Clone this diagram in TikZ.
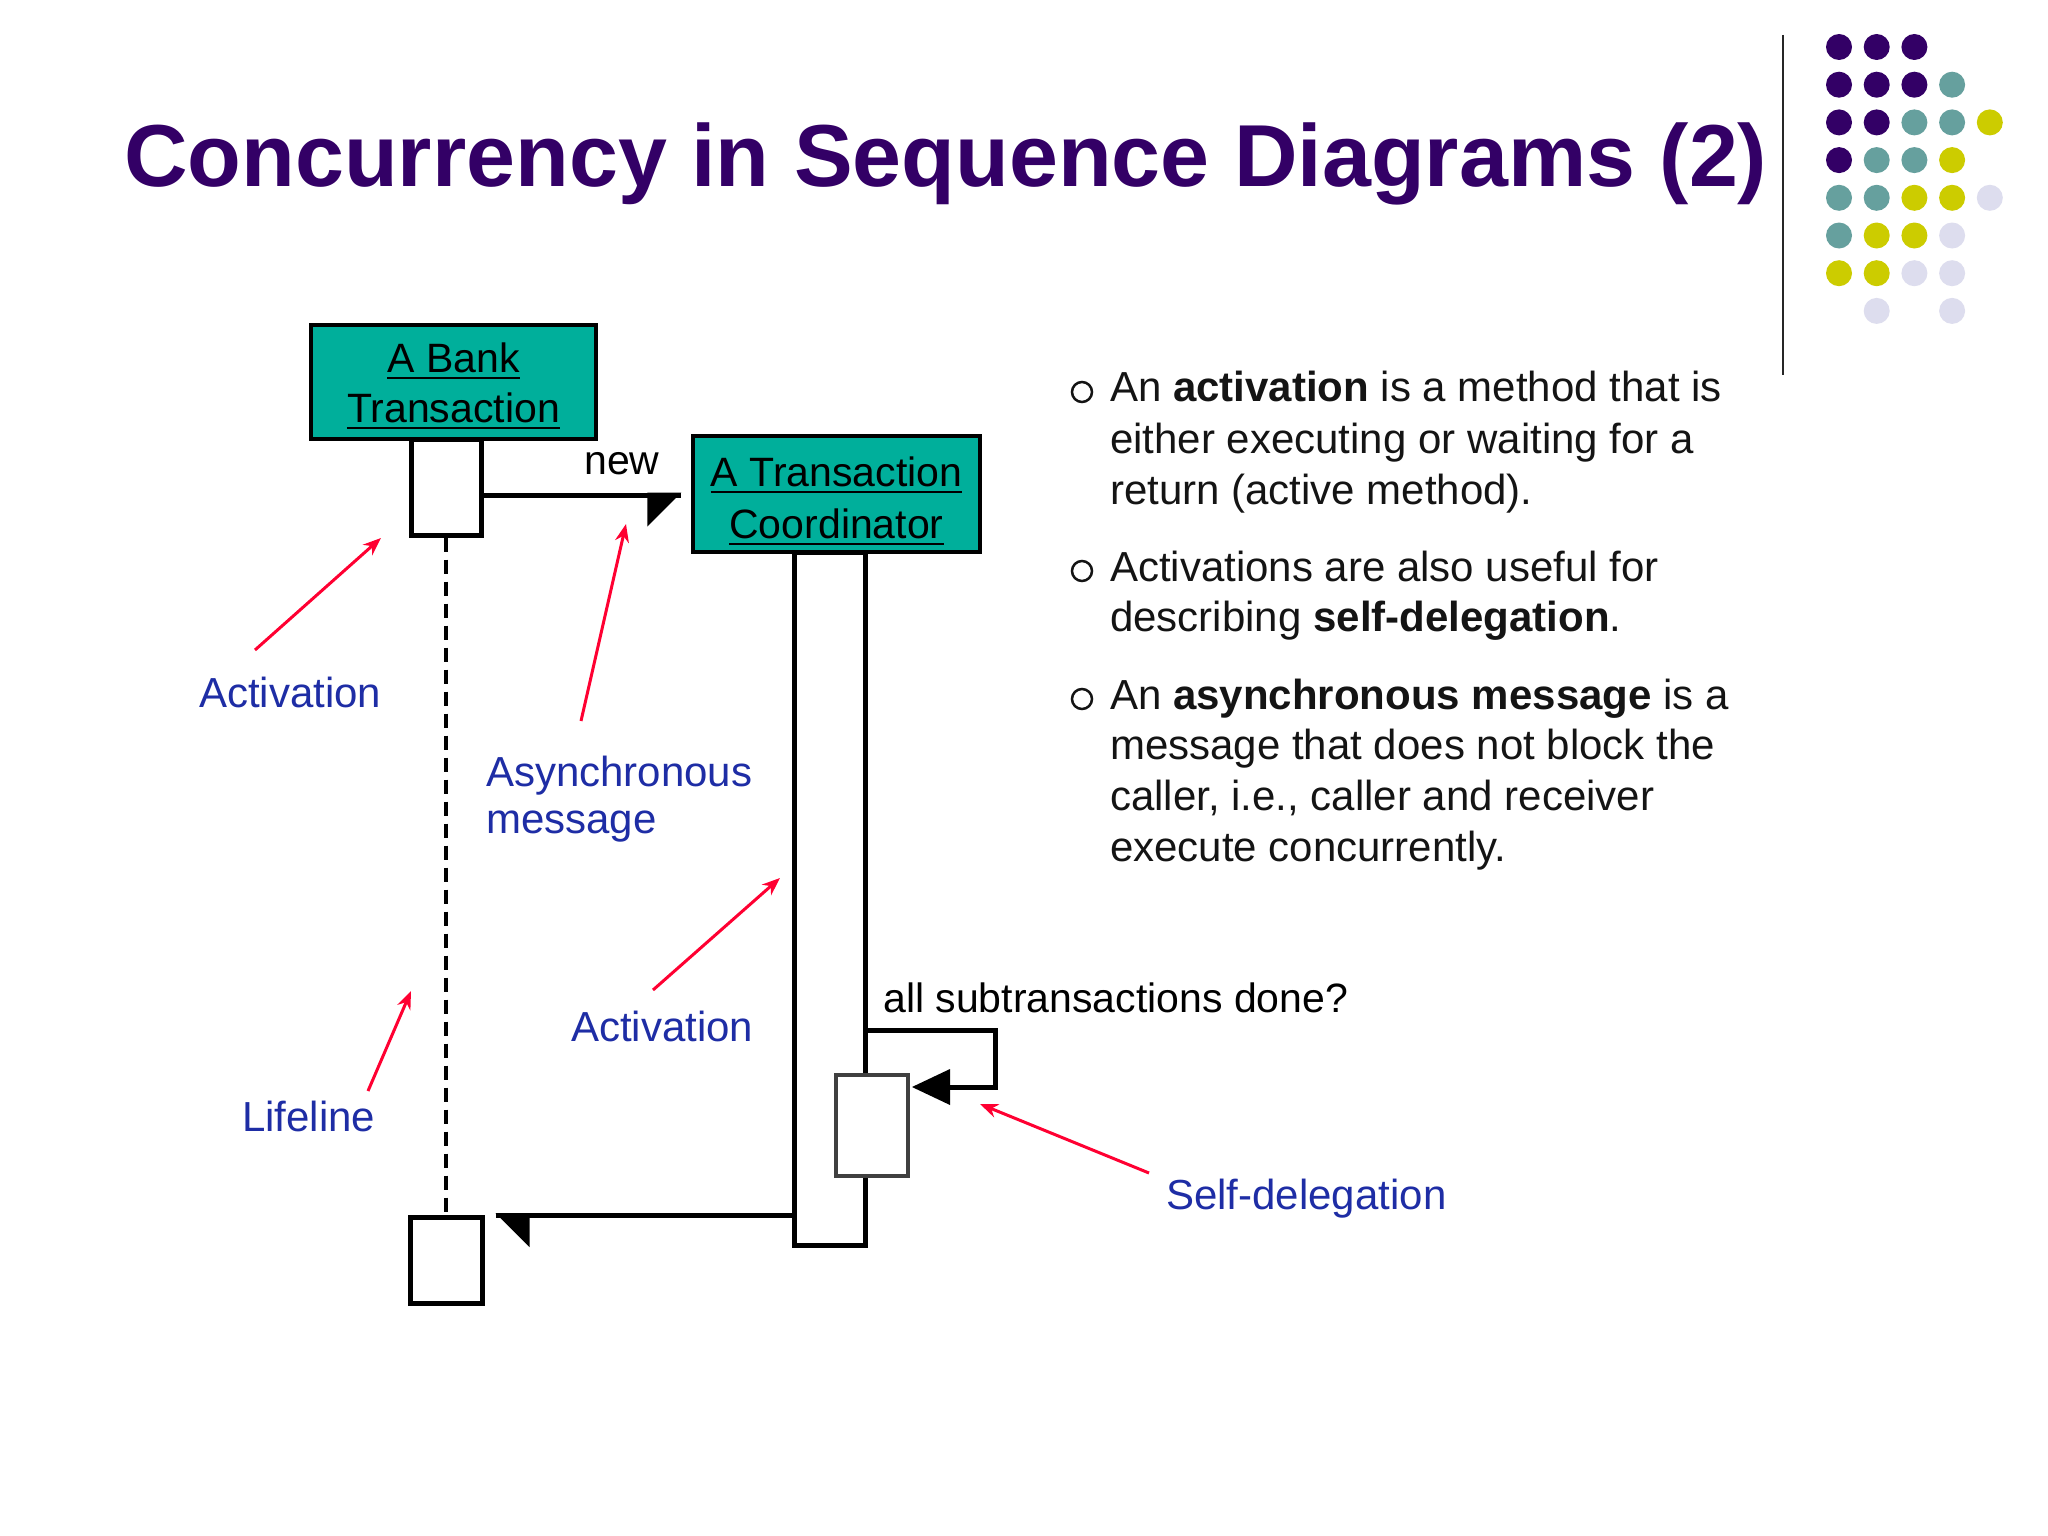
\documentclass[tikz,border=0pt]{standalone}
\usepackage{fontspec}
\setmainfont{Liberation Sans}
\usetikzlibrary{calc,arrows.meta}
\definecolor{titlepurple}{RGB}{51,0,102}
\definecolor{dotteal}{RGB}{102,160,158}
\definecolor{dotyellow}{RGB}{204,204,0}
\definecolor{dotlav}{RGB}{221,221,238}
\definecolor{boxteal}{RGB}{0,175,155}
\definecolor{labelblue}{RGB}{30,45,165}
\definecolor{notered}{RGB}{255,0,50}
\definecolor{bodytext}{RGB}{20,20,20}
\begin{document}
\begin{tikzpicture}[x=1pt,y=-1pt,
  objbox/.style={draw=black, fill=boxteal, line width=3.5pt, inner sep=0pt},
  actbox/.style={draw=black, fill=white, line width=5pt, inner sep=0pt},
  msg/.style={line width=5pt},
  life/.style={line width=4.5pt, dash pattern=on 14pt off 8pt},
  note/.style={draw=notered, line width=3pt, -{Stealth[length=18pt,width=14pt]}},
  lbl/.style={inner sep=0pt, anchor=base west, text=labelblue, font=\fontsize{42}{50}\selectfont},
  body/.style={inner sep=0pt, anchor=base west, text=bodytext, font=\fontsize{42}{51}\selectfont},
  boxtxt/.style={inner sep=0pt, anchor=base, font=\fontsize{41}{48}\selectfont},
  plain/.style={inner sep=0pt, anchor=base west, font=\fontsize{41}{48}\selectfont},
  bul/.style={draw=bodytext, line width=2.5pt}
]
\useasboundingbox (0,0) rectangle (2048,1536);
\fill[white] (0,0) rectangle (2048,1536);

% title
\node[inner sep=0pt, anchor=base west, text=titlepurple, font=\fontsize{88}{100}\selectfont\bfseries] (title) at (124,186) {Concurrency in Sequence Diagrams (2)};

% separator line
\draw[line width=2.5pt, black!85] (1783,35) -- (1783,375);

% dots
\foreach \c/\r/\col in {0/0/titlepurple,1/0/titlepurple,2/0/titlepurple,
  0/1/titlepurple,1/1/titlepurple,2/1/titlepurple,3/1/dotteal,
  0/2/titlepurple,1/2/titlepurple,2/2/dotteal,3/2/dotteal,4/2/dotyellow,
  0/3/titlepurple,1/3/dotteal,2/3/dotteal,3/3/dotyellow,
  0/4/dotteal,1/4/dotteal,2/4/dotyellow,3/4/dotyellow,4/4/dotlav,
  0/5/dotteal,1/5/dotyellow,2/5/dotyellow,3/5/dotlav,
  0/6/dotyellow,1/6/dotyellow,2/6/dotlav,3/6/dotlav,
  1/7/dotlav,3/7/dotlav}
  \fill[\col] ({1839+37.7*\c},{47+37.7*\r}) circle[radius=13];

% object boxes
\node[objbox, minimum width=285pt, minimum height=114pt] (bank) at (453.5,382) {};
\node[objbox, minimum width=287pt, minimum height=116pt] (coord) at (836.5,494) {};
\node[boxtxt] (bank1) at (453.5,372) {A Bank};
\node[boxtxt] (bank2) at (453.5,422) {Transaction};
\node[boxtxt] (coord1) at (836.5,486) {A Transaction};
\node[boxtxt] (coord2) at (836.5,538) {Coordinator};
\foreach \n in {bank1,bank2,coord1,coord2}
  \draw[line width=2.5pt] ($(\n.base west)+(0,6)$) -- ($(\n.base east)+(0,6)$);

% activations
\node[actbox, minimum width=70pt, minimum height=96pt] (act1) at (446,487) {};
\node[actbox, minimum width=71pt, minimum height=693pt] (act2) at (829.5,898.5) {};
\node[actbox, minimum width=72pt, minimum height=86pt] (act4) at (446,1260) {};

% lifeline
\draw[life] (act1.south) -- (act4.north);

% new message (asynchronous, half arrowhead)
\coordinate (newtip) at ($(coord.west)+(-10,1)$);
\draw[msg] ($(act1.east)+(0,8)$) -- (newtip);
\fill ($(newtip)+(0,-2.5)$) -- ++(-34,0) -- ++(0,34) -- cycle;
\node[plain] (newlbl) at (584,474) {new};

% return message
\coordinate (rettip) at ($(act4.north east)+(11,1)$);
\draw[msg] (act2.west |- rettip) -- (rettip);
\fill ($(rettip)+(0,-2.5)$) -- ++(34,0) -- ++(0,34) -- cycle;

% self delegation
\node[actbox, draw=black!75, line width=4pt, minimum width=72pt, minimum height=101pt] (act3) at (872,1125.5) {};
\coordinate (selftip) at ($(act3.north east)+(2,14)$);
\draw[msg] ($(act2.north east)+(0,481)$) -- ++(128,0) |- ($(selftip)+(30,0)$);
\fill (selftip) -- ++(38,-18) -- ++(0,36) -- cycle;
\node[plain] (selflbl) at (883,1012) {all subtransactions done?};

% blue labels
\node[lbl] (labAct1) at (199,707) {Activation};
\node[lbl] (labAsy1) at (486,786) {Asynchronous};
\node[lbl] (labAsy2) at (486,833) {message};
\node[lbl] (labAct2) at (571,1041) {Activation};
\node[lbl] (labLife) at (242,1131) {Lifeline};
\node[lbl] (labSelf) at (1166,1209) {Self-delegation};

% red pointer arrows
\coordinate (p1s) at (255,650); \coordinate (p1e) at (381,538);
\coordinate (p2s) at (581,721); \coordinate (p2e) at (626,524);
\coordinate (p3s) at (653,990); \coordinate (p3e) at (780,878);
\coordinate (p4s) at (368,1091); \coordinate (p4e) at (411,991);
\coordinate (p5s) at (1149,1173); \coordinate (p5e) at (980,1104);
\draw[note] (p1s) -- (p1e);
\draw[note] (p2s) -- (p2e);
\draw[note] (p3s) -- (p3e);
\draw[note] (p4s) -- (p4e);
\draw[note] (p5s) -- (p5e);

% bullet text
\draw[bul] (1082,392) circle[radius=10];
\node[body] (b1a) at (1110,401) {An {\bfseries activation} is a method that is};
\node[body] (b1b) at (1110,453) {either executing or waiting for a};
\node[body] (b1c) at (1110,504) {return (active method).};
\draw[bul] (1082,571) circle[radius=10];
\node[body] (b2a) at (1110,581) {Activations are also useful for};
\node[body] (b2b) at (1110,631) {describing {\bfseries self-delegation}.};
\draw[bul] (1082,699) circle[radius=10];
\node[body] (b3a) at (1110,709) {An {\bfseries asynchronous message} is a};
\node[body] (b3b) at (1110,759) {message that does not block the};
\node[body] (b3c) at (1110,810) {caller, i.e., caller and receiver};
\node[body] (b3d) at (1110,861) {execute concurrently.};
\end{tikzpicture}
\end{document}
